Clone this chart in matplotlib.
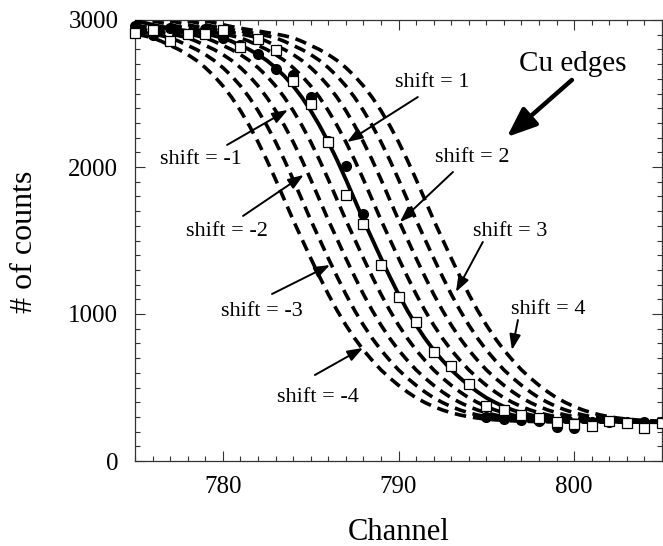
import numpy as np
import matplotlib
matplotlib.use("Agg")
import matplotlib.pyplot as plt
from matplotlib.ticker import MultipleLocator

plt.rcParams['font.family'] = ['Liberation Serif', 'DejaVu Serif']

# ---- data ----
channels = list(range(775, 806))
squares = [2910, 2932, 2859, 2905, 2903, 2932, 2814, 2871, 2796, 2585,
           2429, 2172, 1810, 1610, 1331, 1114, 944, 741, 646, 524,
           376, 347, 311, 293, 267, 250, 238, 274, 259, 227, 261]
circles = [2960, 2900, 2943, 2905, 2939, 2880, 2830, 2770, 2670, 2625,
           2478, 2180, 2007, 1680, 1331, 1114, 944, 741, 646, 524,
           300, 285, 280, 275, 233, 222, 265, 268, 268, 266, 266]

fit_x = np.arange(775, 805.5, 0.5)
fit_y = [2995, 2982, 2968, 2955, 2944, 2934, 2925, 2915, 2905, 2893,
         2879, 2855, 2827, 2799, 2765, 2725, 2676, 2619, 2552, 2474,
         2384, 2283, 2171, 2048, 1916, 1778, 1640, 1510, 1380, 1255,
         1135, 1025, 925, 835, 755, 685, 620, 565, 515, 470,
         430, 398, 370, 347, 328, 313, 301, 292, 285, 280,
         276, 273, 271, 269, 268, 267, 266, 265, 265, 264, 264]

shifts = [-4, -3, -2, -1, 1, 2, 3, 4]

# annotation placements (text centre, arrow start, arrow tip) in data units
ann_labels = ["shift = 1", "shift = -1", "shift = 2", "shift = -2",
              "shift = 3", "shift = -3", "shift = 4", "shift = -4"]
ann_text = [(791.9, 2578), (778.76, 2048), (794.2, 2068), (780.24, 1558),
            (796.34, 1558), (782.23, 1020), (798.5, 1034), (785.4, 435)]
ann_start = [(791.1, 2476), (780.24, 2150), (793.1, 1966), (781.15, 1667),
             (794.8, 1490), (782.8, 1136), (796.8, 959), (785.24, 585)]
ann_tip = [(787.07, 2170), (783.7, 2388), (790.08, 1626), (784.6, 1946),
           (793.27, 1150), (786.1, 1333), (796.46, 755), (787.98, 769)]

W, H = 663, 546
fig = plt.figure(figsize=(W / 100, H / 100), dpi=100)
ax = fig.add_axes([135 / W, 1 - 461 / H, (662 - 135) / W, (461 - 20) / H])

for s in shifts:
    ax.plot(fit_x + s, fit_y, color='black', lw=2.6,
            linestyle=(0, (3.2, 1.9)), dash_capstyle='butt', zorder=2)
ax.plot(fit_x, fit_y, color='black', lw=2.8, zorder=3)
ax.plot(channels, circles, 'o', color='black', ms=7, zorder=4, clip_on=False)
ax.plot(channels, squares, 's', mfc='white', mec='black', mew=0.9, ms=6.8,
        zorder=5, clip_on=False)

ax.set_xlim(775, 805)
ax.set_ylim(0, 3000)
ax.xaxis.set_major_locator(MultipleLocator(10))
ax.xaxis.set_minor_locator(MultipleLocator(1))
ax.yaxis.set_major_locator(MultipleLocator(1000))
ax.yaxis.set_minor_locator(MultipleLocator(100))
ax.tick_params(which='both', direction='in', top=True, right=True,
               width=0.8, color='#333333')
ax.tick_params(which='major', length=7, labelsize=18)
ax.tick_params(which='minor', length=3.6)
ax.tick_params(axis='x', which='major', pad=11)
ax.tick_params(axis='y', which='major', pad=12)
for sp in ax.spines.values():
    sp.set_linewidth(0.9)
    sp.set_color('#333333')

for lab, t, a, tip in zip(ann_labels, ann_text, ann_start, ann_tip):
    ax.text(t[0], t[1], lab, fontsize=16, ha='center', va='center', zorder=6)
    ax.annotate('', xy=tip, xytext=a,
                arrowprops=dict(arrowstyle='-|>,head_length=0.55,head_width=0.2',
                                lw=1.4, color='black', mutation_scale=17,
                                shrinkA=0, shrinkB=0), zorder=6)

ax.text(799.93, 2701, "Cu edges", fontsize=21, ha='center', va='center')
ax.annotate('', xy=(796.17, 2204), xytext=(799.87, 2592),
            arrowprops=dict(arrowstyle='-|>,head_length=0.9,head_width=0.36',
                            lw=3.2, color='black', mutation_scale=20,
                            shrinkA=0, shrinkB=0))

fig.text(398.5 / W, 1 - 532 / H, "Channel", fontsize=22, ha='center', va='center')
fig.text(24 / W, 1 - 242 / H, "# of counts", fontsize=23, rotation=90,
         ha='center', va='center')

fig.savefig("out.png", dpi=100)
